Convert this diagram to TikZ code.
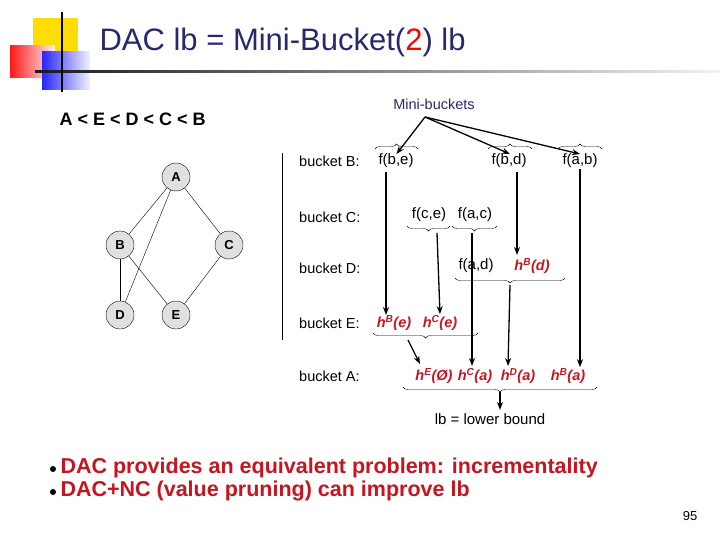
\documentclass[tikz,border=0pt]{standalone}
\usepackage{fontspec}
\setmainfont{Liberation Sans}
\usetikzlibrary{decorations.pathreplacing,arrows.meta,shadings}
\definecolor{navy}{RGB}{40,40,110}
\definecolor{hred}{RGB}{200,20,30}
\begin{document}
\begin{tikzpicture}[
   x=1pt, y=-1pt,
   var/.style={circle, draw, fill=black!12, minimum size=28pt, inner sep=0pt, font=\fontsize{13}{13}\selectfont\bfseries},
   lab/.style={font=\fontsize{14.5}{14.5}\selectfont, inner sep=1pt},
   fn/.style={font=\fontsize{15}{15}\selectfont, inner sep=1pt},
   hfn/.style={font=\fontsize{14.5}{14.5}\selectfont\bfseries\itshape, text=hred, inner sep=1pt},
   brd/.style={decorate, decoration={brace, mirror, amplitude=5pt}},
   bru/.style={decorate, decoration={brace, amplitude=5pt}},
   arrow/.style={-{Stealth[length=8pt]}, line width=1.3pt}
]
\useasboundingbox (0,0) rectangle (720,540);
% Logo and title
\fill[yellow!80!orange] (33,18) rectangle (78,58);
\shade[left color=red!90, right color=red!5] (10,46) rectangle (55,78);
\shade[left color=blue!85, right color=blue!5] (42,52) rectangle (90,90);
\shade[left color=black!90, right color=black!5] (35,71) rectangle (720,73);
\draw[line width=2pt] (62,12) -- (62,92);
\node[anchor=west, text=navy, font=\fontsize{31}{31}\selectfont] (title) at (96,42) {DAC lb = Mini-Bucket(\textcolor{red}{2}) lb};
\node[anchor=west, font=\fontsize{18}{18}\selectfont\bfseries] (order) at (56,119) {A < E < D < C < B};

% Graph
\node[var] (A) at (176,177) {A};
\node[var] (B) at (120,245) {B};
\node[var] (C) at (229,245) {C};
\node[var] (D) at (120,315) {D};
\node[var] (E) at (176,315) {E};
\draw (A) -- (B);
\draw (A) -- (D);
\draw (A) -- (C);
\draw (B) -- (D);
\draw (B) -- (E);
\draw (C) -- (E);
\draw (282,153) -- (282,340);

% Buckets
\node[lab, anchor=west] (bB) at (298,161) {bucket B:};
\node[lab, anchor=west] (bC) at (298,217) {bucket C:};
\node[lab, anchor=west] (bD) at (298,268) {bucket D:};
\node[lab, anchor=west] (bE) at (298,323) {bucket E:};
\node[lab, anchor=west] (bA) at (298,376) {bucket A:};

\node[fn] (fbe) at (396,161) {f(b,e)};
\node[fn] (fbd) at (509,161) {f(b,d)};
\node[fn] (fab) at (580,161) {f(a,b)};
\node[fn] (fce) at (429,215) {f(c,e)};
\node[fn] (fac) at (475,215) {f(a,c)};
\node[fn] (fad) at (476,266) {f(a,d)};
\node[hfn] (hBd) at (532,266) {h\textsuperscript{B}(d)};
\node[hfn] (hBe) at (394,323) {h\textsuperscript{B}(e)};
\node[hfn] (hCe) at (440,323) {h\textsuperscript{C}(e)};
\node[hfn] (hE) at (434,376) {h\textsuperscript{E}(Ø)};
\node[hfn] (hCa) at (475,376) {h\textsuperscript{C}(a)};
\node[hfn] (hDa) at (518,376) {h\textsuperscript{D}(a)};
\node[hfn] (hBa) at (568,376) {h\textsuperscript{B}(a)};

% Braces
\draw[bru] (375,149) -- coordinate[pos=.5, yshift=-5pt] (mbe) (418,149);
\draw[bru] (488,149) -- coordinate[pos=.5, yshift=-5pt] (mbd) (532,149);
\draw[bru] (558,149) -- coordinate[pos=.5, yshift=-5pt] (mab) (602,149);
\draw[brd] (407,226) -- coordinate[pos=.5] (mce) (450,226);
\draw[brd] (452,226) -- coordinate[pos=.5] (mac) (497,226);
\draw[brd] (455,278) -- coordinate[pos=.5] (mD) (565,278);
\draw[brd] (373,333) -- coordinate[pos=.5] (mE) (478,333);
\draw[brd] (403,387) -- coordinate[pos=.5] (mA) (597,387);

\node[text=navy, font=\fontsize{14.5}{14.5}\selectfont] (mini) at (434,104) {Mini-buckets};
\coordinate (src) at (425,117);
\draw[arrow] (src) -- (mbe);
\draw[arrow] (src) -- (mbd);
\draw[arrow] (src) -- (mab);

% Messages
\draw[arrow] (386,172) -- (386,315);
\draw[arrow] (437,233) -- (hCe.north);
\draw[arrow] (472,233) -- (472,366);
\draw[arrow] (517,172) -- (517,255);
\draw[arrow] (fab.south) -- (fab.south |- hBa.north);
\draw[arrow] (510,285) -- (508,366);
\draw[arrow] (408,340) -- (420,364);
\node[font=\fontsize{15}{15}\selectfont] (lb) at (490,419) {lb = lower bound};
\draw[arrow] (mA) ++(0,5) -- (lb.north -| mA);

% Bullets
\node[anchor=west, text=hred, font=\fontsize{21.5}{21.5}\selectfont\bfseries] (b1) at (57,468) {DAC provides an equivalent problem: incrementality};
\node[anchor=west, text=hred, font=\fontsize{21.5}{21.5}\selectfont\bfseries] (b2) at (57,491) {DAC+NC (value pruning) can improve lb};
\fill (53,469) circle (3pt);
\fill (53,492) circle (3pt);
\node[font=\fontsize{13}{13}\selectfont] (pg) at (690,516) {95};
\end{tikzpicture}
\end{document}
